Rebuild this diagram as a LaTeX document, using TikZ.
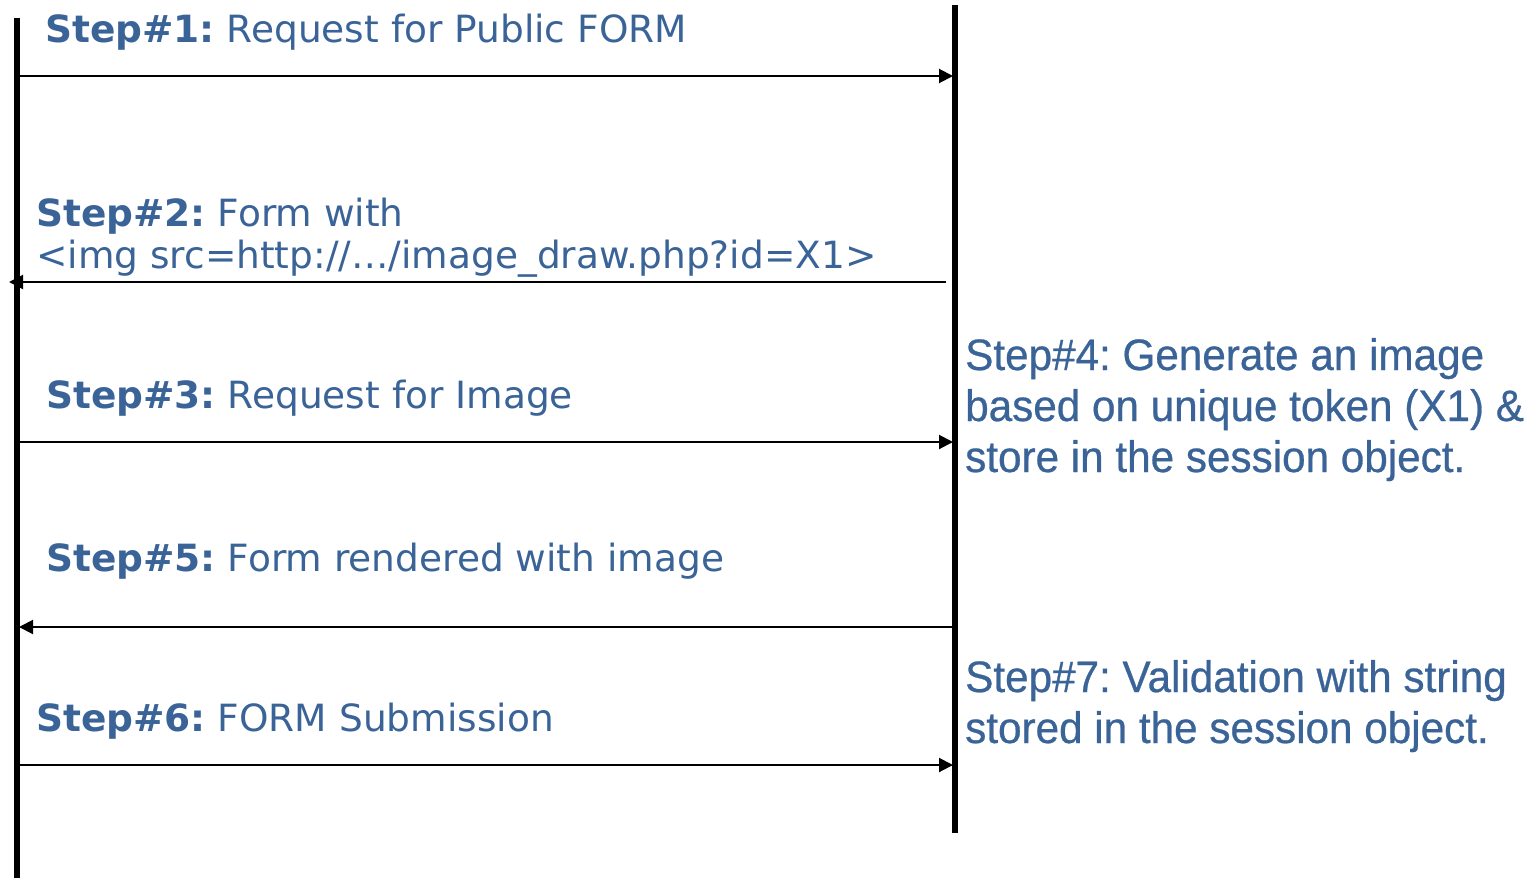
\documentclass[tikz,border=0pt]{standalone}
\usepackage{fontspec}
\setmainfont{DejaVu Sans}
\newfontfamily\arialc[FakeStretch=0.96,FakeBold=0.6]{Liberation Sans}
\usetikzlibrary{arrows.meta}
\definecolor{txtblue}{HTML}{3A6397}
\frenchspacing
\tikzset{
  lifeline/.style={line width=6pt},
  msg/.style={line width=2pt,-{Triangle[length=14pt,width=14pt]}},
  steplabel/.style={anchor=base west,inner sep=0pt,text=txtblue,font=\frenchspacing\fontsize{37.5}{42}\selectfont},
  notelabel/.style={anchor=base west,inner sep=0pt,text=txtblue,font=\frenchspacing\arialc\fontsize{44}{51}\selectfont},
}
\begin{document}
\begin{tikzpicture}[x=1pt,y=-1pt]
\useasboundingbox (0,0) rectangle (1539,878);
% lifelines
\coordinate (Ltop) at (17,18);
\coordinate (Lbot) at (17,878);
\coordinate (Rtop) at (955,5);
\coordinate (Rbot) at (955,833);
\draw[lifeline] (Ltop) -- (Lbot);
\draw[lifeline] (Rtop) -- (Rbot);
% message end points
\coordinate (a1) at (20,76);  \coordinate (b1) at (953,76);
\coordinate (a2) at (946,282); \coordinate (b2) at (9,282);
\coordinate (a3) at (20,442); \coordinate (b3) at (953,442);
\coordinate (a5) at (952,627); \coordinate (b5) at (19,627);
\coordinate (a6) at (20,765); \coordinate (b6) at (953,765);
\draw[msg] (a1) -- (b1);
\draw[msg] (a2) -- (b2);
\draw[msg] (a3) -- (b3);
\draw[msg] (a5) -- (b5);
\draw[msg] (a6) -- (b6);
% labels
\node[steplabel] (s1) at (45,42) {\textbf{Step\#1:} Request for Public FORM};
\node[steplabel] (s2a) at (36,226) {\textbf{Step\#2:} Form with};
\node[steplabel] (s2b) at (36,268) {<img src=http://\dots/image\_draw.php?id=X1>};
\node[steplabel] (s3) at (46,408) {\textbf{Step\#3:} Request for Image};
\node[steplabel] (s5) at (46,571) {\textbf{Step\#5:} Form rendered with image};
\node[steplabel] (s6) at (36,731) {\textbf{Step\#6:} FORM Submission};
\node[notelabel] (s4a) at (965,370) {Step\#4: Generate an image};
\node[notelabel] (s4b) at (965,421) {based on unique token (X1) \&};
\node[notelabel] (s4c) at (965,472) {store in the session object.};
\node[notelabel] (s7a) at (965,692) {Step\#7: Validation with string};
\node[notelabel] (s7b) at (965,743) {stored in the session object.};
\end{tikzpicture}
\end{document}
